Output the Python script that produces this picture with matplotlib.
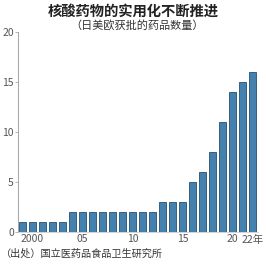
import matplotlib.pyplot as plt

plt.rcParams['font.family'] = ['Noto Sans CJK SC', 'DejaVu Sans']

years = list(range(1999, 2023))
counts = [1, 1, 1, 1, 1, 2, 2, 2, 2, 2, 2, 2, 2, 2, 3, 3, 3, 5, 6, 8, 11, 14, 15, 16]
tick_years = [2000, 2005, 2010, 2015, 2020, 2022]
tick_labels = ['2000', '05', '10', '15', '20', '22年']

fig = plt.figure(figsize=(2.66, 2.66), dpi=100)
ax = fig.add_axes([18 / 266, 0.129, 240 / 266, 0.752])

ax.bar(years, counts, width=0.68, color='#4581ae', edgecolor='#244f70', linewidth=0.6)

ax.set_xlim(1998.55, 2022.55)
ax.set_ylim(0, 20)
ax.set_yticks([0, 5, 10, 15, 20])
ax.set_xticks(tick_years)
ax.set_xticklabels(tick_labels)
ax.tick_params(axis='y', length=2, width=0.5, color='#999999', labelsize=7.5,
               labelcolor='#555555', pad=1)
ax.tick_params(axis='x', length=0, labelsize=7.5, labelcolor='#555555', pad=2)

for s in ['top', 'right']:
    ax.spines[s].set_visible(False)
ax.spines['left'].set_color('#aaaaaa')
ax.spines['left'].set_linewidth(0.8)
ax.spines['bottom'].set_color('#cccccc')
ax.spines['bottom'].set_linewidth(0.6)

fig.text(0.5, 0.955, '核酸药物的实用化不断推进', ha='center', va='center',
         fontsize=10.3, fontweight='bold', color='#222222')
fig.text(0.515, 0.905, '（日美欧获批的药品数量）', ha='center', va='center',
         fontsize=8, color='#333333')
fig.text(0.005, 0.045, '（出处）国立医药品食品卫生研究所', ha='left', va='center',
         fontsize=7.3, fontweight='medium', color='#333333')

fig.savefig('out.png', dpi=100)
